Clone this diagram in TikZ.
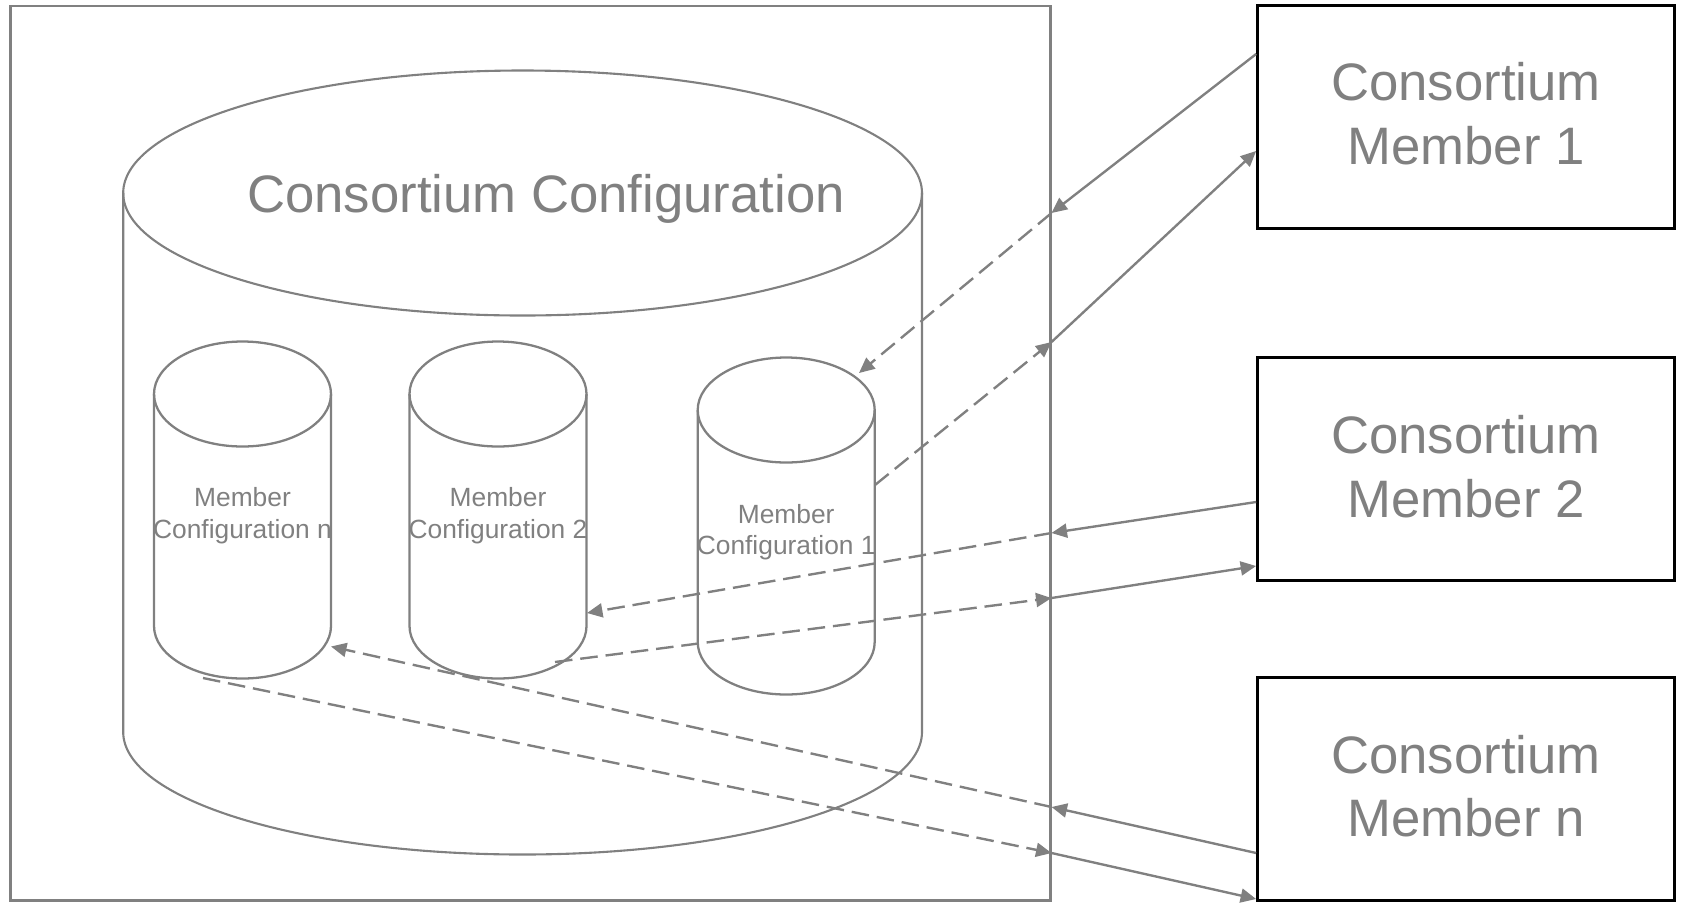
\documentclass[tikz,border=0pt]{standalone}
\usepackage{fontspec}
\setmainfont{Liberation Sans}
\usetikzlibrary{arrows.meta}

\definecolor{cgray}{HTML}{808080}

% cylinder: centre x, top y, bottom y, x radius, y radius
\newcommand{\dbcyl}[6][1.3pt]{%
  \draw[cgray, line width=#1] (#2,#3) ellipse [x radius=#5, y radius=#6];
  \draw[cgray, line width=#1] ({#2-#5},#3) -- ({#2-#5},#4)
    arc [start angle=180, end angle=0, x radius=#5, y radius=#6] -- ({#2+#5},#3);
}

\begin{document}
\begin{tikzpicture}[x=0.02cm, y=-0.02cm, >={Triangle[length=0.31cm, width=0.28cm]},
  flow/.style={draw=cgray, line width=1.35pt},
  flowdash/.style={flow, dash pattern=on 10pt off 4.5pt},
  hostbox/.style={draw=cgray, line width=1.5pt, minimum width=20.8cm, minimum height=17.9cm, inner sep=0pt},
  memberbox/.style={draw=black, line width=1.6pt, minimum width=8.34cm, minimum height=4.46cm,
    inner sep=0pt, align=center, text=cgray, font=\fontsize{30pt}{36.4pt}\selectfont},
  bigtext/.style={text=cgray, font=\fontsize{30pt}{36pt}\selectfont},
  cyltext/.style={text=cgray, align=center, inner sep=0pt, font=\fontsize{15pt}{17.9pt}\selectfont}]
  \useasboundingbox (0,0) rectangle (1681,904);

  \node[hostbox] (host) at (530.3,453.3) {};

  % big store
  \dbcyl[1.2pt]{522.6}{193}{732}{399.4}{122.5}
  \node[bigtext] (cfg) at (546,198.5) {Consortium Configuration};

  % member stores
  \dbcyl{242.5}{394}{626}{88.5}{52.5}
  \dbcyl{498}{394}{626}{88.5}{52.5}
  \dbcyl{786.2}{410}{642}{88.5}{52.5}
  \node[cyltext] (cfgn) at (242.5,515.5) {Member\\Configuration n};
  \node[cyltext] (cfg2) at (498,515.5) {Member\\Configuration 2};
  \node[cyltext] (cfg1) at (786.2,532) {Member\\Configuration 1};

  \coordinate (c1in) at (859,373);
  \coordinate (c1out) at (875,485);
  \coordinate (c2in) at (587,613);
  \coordinate (c2out) at (555,662);
  \coordinate (cnin) at (331,646.5);
  \coordinate (cnout) at (203,678);

  % members
  \node[memberbox, text depth=0pt] (mem1) at (1466,117) {Consortium\\Member 1\vspace{3.5pt}};
  \node[memberbox, text depth=0pt] (mem2) at (1466,469.3) {Consortium\\Member 2\vspace{3.5pt}};
  \node[memberbox, text depth=0pt] (memn) at (1466,789.2) {Consortium\\Member n\vspace{3.5pt}};

  % member 1
  \draw[flow,->] (mem1.west |- 0,54) -- (host.east |- 0,213);
  \draw[flowdash,->] (host.east |- 0,213) -- (c1in);
  \draw[flowdash,->] (c1out) -- (host.east |- 0,342);
  \draw[flow,->] (host.east |- 0,342) -- (mem1.west |- 0,151);

  % member 2
  \draw[flow,->] (mem2.west |- 0,502) -- (host.east |- 0,533);
  \draw[flowdash,->] (host.east |- 0,533) -- (c2in);
  \draw[flowdash,->] (c2out) -- (host.east |- 0,598);
  \draw[flow,->] (host.east |- 0,598) -- (mem2.west |- 0,566);

  % member n
  \draw[flow,->] (memn.west |- 0,853) -- (host.east |- 0,807);
  \draw[flowdash,->] (host.east |- 0,807) -- (cnin);
  \draw[flowdash,->] (cnout) -- (host.east |- 0,853);
  \draw[flow,->] (host.east |- 0,853) -- (memn.west |- 0,899);
\end{tikzpicture}
\end{document}
